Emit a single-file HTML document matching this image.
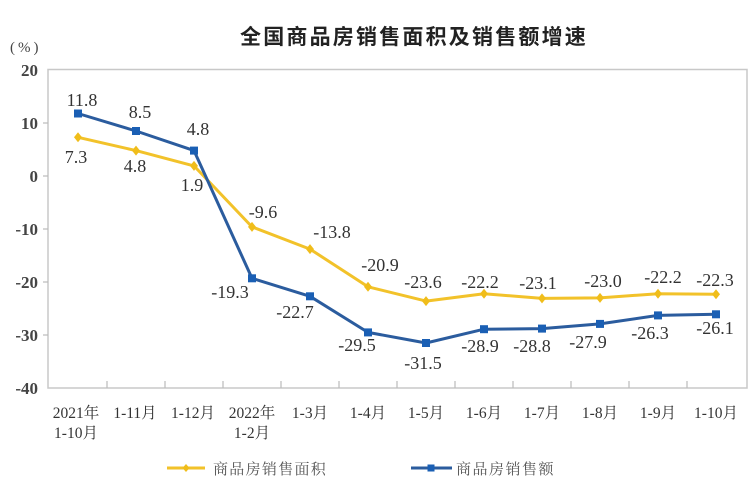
<!DOCTYPE html>
<html><head><meta charset="utf-8"><style>
html,body{margin:0;padding:0;background:#fff;}
svg{display:block;}
.tick{font-family:"Liberation Serif","Noto Serif CJK SC",serif;font-size:17px;font-weight:bold;fill:#444;}
.lab{font-family:"Liberation Serif",serif;font-size:18px;fill:#333;text-anchor:middle;}
.xl{font-family:"Liberation Serif","Noto Serif CJK SC",serif;font-size:15.5px;fill:#333;text-anchor:middle;}
.lg{font-family:"Noto Serif CJK SC","Noto Sans CJK SC",serif;font-size:15px;fill:#555;}
</style></head><body>
<svg width="750" height="491" viewBox="0 0 750 491" xmlns="http://www.w3.org/2000/svg">
<rect width="750" height="491" fill="#fff"/>
<text x="414" y="44" text-anchor="middle" style="font-family:'Noto Sans CJK SC',sans-serif;font-size:21px;font-weight:bold;letter-spacing:2.2px;fill:#222;">全国商品房销售面积及销售额增速</text>
<text x="10" y="52" style="font-family:'Liberation Serif',serif;font-size:15px;letter-spacing:3px;fill:#444;">(%)</text>
<!-- frame -->
<rect x="48" y="69.5" width="699" height="318.5" fill="none" stroke="#c8c8c8" stroke-width="1.5"/>
<!-- y ticks -->
<g stroke="#bbb" stroke-width="1.2">
<line x1="43" y1="123" x2="48" y2="123"/><line x1="43" y1="176" x2="48" y2="176"/>
<line x1="43" y1="229" x2="48" y2="229"/><line x1="43" y1="282" x2="48" y2="282"/>
<line x1="43" y1="335" x2="48" y2="335"/>
</g>
<g class="tick" text-anchor="end">
<text x="38" y="76">20</text><text x="38" y="129">10</text><text x="38" y="182">0</text>
<text x="38" y="235">-10</text><text x="38" y="288">-20</text><text x="38" y="341">-30</text><text x="38" y="394">-40</text>
</g>
<!-- x ticks -->
<g stroke="#bbb" stroke-width="1.2">
<line x1="107" y1="381" x2="107" y2="388"/><line x1="165" y1="381" x2="165" y2="388"/>
<line x1="223" y1="381" x2="223" y2="388"/><line x1="281" y1="381" x2="281" y2="388"/>
<line x1="339" y1="381" x2="339" y2="388"/><line x1="397" y1="381" x2="397" y2="388"/>
<line x1="455" y1="381" x2="455" y2="388"/><line x1="513" y1="381" x2="513" y2="388"/>
<line x1="571" y1="381" x2="571" y2="388"/><line x1="629" y1="381" x2="629" y2="388"/>
<line x1="687" y1="381" x2="687" y2="388"/>
</g>
<g class="xl">
<text x="76" y="418">2021年</text><text x="76" y="438">1-10月</text>
<text x="135" y="418">1-11月</text>
<text x="193" y="418">1-12月</text>
<text x="252" y="418">2022年</text><text x="252" y="438">1-2月</text>
<text x="310" y="418">1-3月</text>
<text x="368" y="418">1-4月</text>
<text x="426" y="418">1-5月</text>
<text x="484" y="418">1-6月</text>
<text x="542" y="418">1-7月</text>
<text x="600" y="418">1-8月</text>
<text x="658" y="418">1-9月</text>
<text x="716" y="418">1-10月</text>
</g>
<!-- yellow series: 7.3,4.8,1.9,-9.6,-13.8,-20.9,-23.6,-22.2,-23.1,-23.0,-22.2,-22.3 -->
<polyline fill="none" stroke="#f2c22a" stroke-width="3" stroke-linejoin="round"
points="78,137.3 136,150.6 194,165.9 252,226.9 310,249.1 368,286.8 426,301.1 484,293.7 542,298.4 600,297.9 658,293.7 716,294.2"/>
<g fill="#f0bd1a">
<path d="M78,132.3 l4,5 l-4,5 l-4,-5z"/><path d="M136,145.6 l4,5 l-4,5 l-4,-5z"/>
<path d="M194,160.9 l4,5 l-4,5 l-4,-5z"/><path d="M252,221.9 l4,5 l-4,5 l-4,-5z"/>
<path d="M310,244.1 l4,5 l-4,5 l-4,-5z"/><path d="M368,281.8 l4,5 l-4,5 l-4,-5z"/>
<path d="M426,296.1 l4,5 l-4,5 l-4,-5z"/><path d="M484,288.7 l4,5 l-4,5 l-4,-5z"/>
<path d="M542,293.4 l4,5 l-4,5 l-4,-5z"/><path d="M600,292.9 l4,5 l-4,5 l-4,-5z"/>
<path d="M658,288.7 l4,5 l-4,5 l-4,-5z"/><path d="M716,289.2 l4,5 l-4,5 l-4,-5z"/>
</g>
<!-- blue series: 11.8,8.5,4.8,-19.3,-22.7,-29.5,-31.5,-28.9,-28.8,-27.9,-26.3,-26.1 -->
<polyline fill="none" stroke="#2b5c9e" stroke-width="3" stroke-linejoin="round"
points="78,113.5 136,131 194,150.6 252,278.3 310,296.3 368,332.4 426,343 484,329.2 542,328.6 600,323.9 658,315.4 716,314.3"/>
<g fill="#1a5fb4">
<rect x="74" y="109.5" width="8" height="8"/><rect x="132" y="127" width="8" height="8"/>
<rect x="190" y="146.6" width="8" height="8"/><rect x="248" y="274.3" width="8" height="8"/>
<rect x="306" y="292.3" width="8" height="8"/><rect x="364" y="328.4" width="8" height="8"/>
<rect x="422" y="339" width="8" height="8"/><rect x="480" y="325.2" width="8" height="8"/>
<rect x="538" y="324.6" width="8" height="8"/><rect x="596" y="319.9" width="8" height="8"/>
<rect x="654" y="311.4" width="8" height="8"/><rect x="712" y="310.3" width="8" height="8"/>
</g>
<!-- yellow labels -->
<g class="lab">
<text x="76" y="163">7.3</text><text x="135" y="172">4.8</text><text x="192" y="191">1.9</text>
<text x="263" y="218">-9.6</text><text x="332" y="238">-13.8</text><text x="380" y="271">-20.9</text>
<text x="423" y="288">-23.6</text><text x="480" y="288">-22.2</text><text x="538" y="289">-23.1</text>
<text x="603" y="287">-23.0</text><text x="663" y="283">-22.2</text><text x="715" y="286">-22.3</text>
</g>
<!-- blue labels -->
<g class="lab">
<text x="82" y="106">11.8</text><text x="140" y="118">8.5</text><text x="198" y="135">4.8</text>
<text x="230" y="298">-19.3</text><text x="295" y="318">-22.7</text><text x="357" y="351">-29.5</text>
<text x="423" y="369">-31.5</text><text x="480" y="352">-28.9</text><text x="532" y="352">-28.8</text>
<text x="588" y="348">-27.9</text><text x="650" y="339">-26.3</text><text x="715" y="334">-26.1</text>
</g>
<!-- legend -->
<line x1="167" y1="468" x2="205" y2="468" stroke="#f2c22a" stroke-width="3"/>
<path d="M186,464 l3.5,4 l-3.5,4 l-3.5,-4z" fill="#f0bd1a"/>
<text class="lg" x="213" y="474" style="letter-spacing:1.3px;">商品房销售面积</text>
<line x1="411" y1="468" x2="452" y2="468" stroke="#2b5c9e" stroke-width="3"/>
<rect x="427.5" y="464.5" width="7" height="7" fill="#1a5fb4"/>
<text class="lg" x="456" y="474" style="letter-spacing:1.5px;">商品房销售额</text>
</svg>
</body></html>
